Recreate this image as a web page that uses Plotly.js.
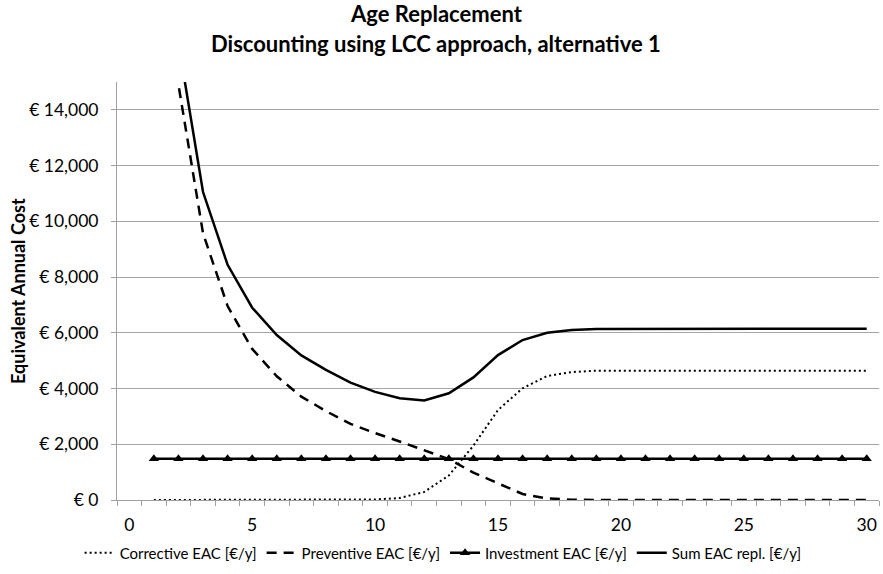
<!DOCTYPE html>
<html>
<head>
<meta charset="utf-8">
<script src="https://cdn.plot.ly/plotly-3.0.1.min.js"></script>
<style>html,body{margin:0;padding:0;background:#fff;}#chart{width:883px;height:574px;}</style>
</head>
<body>
<div id="chart"></div>
<script>
const years = [1,2,3,4,5,6,7,8,9,10,11,12,13,14,15,16,17,18,19,20,21,22,23,24,25,26,27,28,29,30];
const corrective = [0,0,0,0,0,0,0,0,0,20,70,290,880,1950,3230,4010,4450,4590,4640,4640,4640,4640,4640,4640,4640,4640,4640,4640,4640,4640];
const preventive = [30000,14900,9570,6960,5420,4440,3710,3190,2730,2400,2100,1790,1470,980,609,215,57,10,0,0,0,0,0,0,0,0,0,0,0,0];
const investment = [1480,1480,1480,1480,1480,1480,1480,1480,1480,1480,1480,1480,1480,1480,1480,1480,1480,1480,1480,1480,1480,1480,1480,1480,1480,1480,1480,1480,1480,1480];
const sumEAC = [31480,16400,11050,8440,6900,5920,5190,4670,4210,3880,3650,3570,3830,4400,5200,5740,6000,6100,6135,6140,6145,6145,6145,6145,6145,6145,6145,6145,6145,6145];
const seriesNames = ["Corrective EAC [€/y]", "Preventive EAC [€/y]", "Investment EAC [€/y]", "Sum EAC repl. [€/y]"];
const titleLines = ["Age Replacement", "Discounting using LCC approach, alternative 1"];
const yTitle = "Equivalent Annual Cost";
const xLabelVals = [0,5,10,15,20,25,30];
const yTickVals = [0,2000,4000,6000,8000,10000,12000,14000];

const FONT = "Lato, 'Open Sans', sans-serif";
const traces = [
  {x: years, y: corrective, name: seriesNames[0], type: 'scatter', mode: 'lines',
   line: {color: '#000', width: 2, dash: '2px,3px'}},
  {x: years, y: preventive, name: seriesNames[1], type: 'scatter', mode: 'lines',
   line: {color: '#000', width: 2.5, dash: '10px,7px'}},
  {x: years, y: investment, name: seriesNames[2], type: 'scatter', mode: 'lines+markers',
   line: {color: '#000', width: 2.5}, marker: {symbol: 'triangle-up', size: 9, color: '#000'}},
  {x: years, y: sumEAC, name: seriesNames[3], type: 'scatter', mode: 'lines',
   line: {color: '#000', width: 2.5}},
  {x: xLabelVals, y: xLabelVals.map(() => null), xaxis: 'x2', type: 'scatter', mode: 'lines',
   showlegend: false, hoverinfo: 'skip'}
];

const layout = {
  width: 883, height: 574,
  margin: {l: 117, r: 4, t: 82, b: 74, autoexpand: false},
  paper_bgcolor: '#fff', plot_bgcolor: '#fff',
  font: {family: FONT, color: '#000', size: 17},
  showlegend: true,
  legend: {orientation: 'h', x: 0.428, xanchor: 'center', y: -0.127, yanchor: 'middle',
           font: {family: FONT, size: 15, color: '#000'}, itemwidth: 30, tracegroupgap: 0},
  annotations: [
    {text: '<b>' + titleLines[0] + '</b>', xref: 'paper', yref: 'paper', x: 0.419, y: 1.163,
     xanchor: 'center', yanchor: 'middle', showarrow: false, font: {family: FONT, size: 22, color: '#000'}},
    {text: '<b>' + titleLines[1] + '</b>', xref: 'paper', yref: 'paper', x: 0.419, y: 1.091,
     xanchor: 'center', yanchor: 'middle', showarrow: false, font: {family: FONT, size: 22, color: '#000'}},
    {text: '<b>' + yTitle + '</b>', xref: 'paper', yref: 'paper', x: -0.13, y: 0.5, textangle: -90,
     xanchor: 'center', yanchor: 'middle', showarrow: false, font: {family: FONT, size: 18, color: '#000'}}
  ],
  xaxis: {range: [-0.5, 30.5], tickmode: 'linear', tick0: -0.5, dtick: 1, ticks: 'outside', ticklen: 5,
          tickcolor: '#a0a0a0', showticklabels: false, showgrid: false, zeroline: false,
          showline: true, linecolor: '#a0a0a0', linewidth: 1, fixedrange: true},
  xaxis2: {overlaying: 'x', anchor: 'y', side: 'bottom', range: [-0.5, 30.5], tickmode: 'array',
           tickvals: xLabelVals, ticktext: xLabelVals.map(String), ticks: 'outside', ticklen: 9,
           tickcolor: 'rgba(0,0,0,0)', showgrid: false, zeroline: false, showline: false,
           tickfont: {family: FONT, size: 17.5, color: '#000'}},
  yaxis: {range: [0, 15000], tickmode: 'array', tickvals: yTickVals,
          ticktext: yTickVals.map(v => '€ ' + v.toLocaleString('en-US')),
          ticks: 'outside', ticklen: 5, tickcolor: '#a0a0a0', ticklabelstandoff: 9,
          showgrid: true, gridcolor: '#a6a6a6', gridwidth: 1, zeroline: false,
          showline: true, linecolor: '#a0a0a0', linewidth: 1,
          tickfont: {family: FONT, size: 17.5, color: '#000'}}
};

Plotly.newPlot('chart', traces, layout, {staticPlot: true, displayModeBar: false});
</script>
</body>
</html>
